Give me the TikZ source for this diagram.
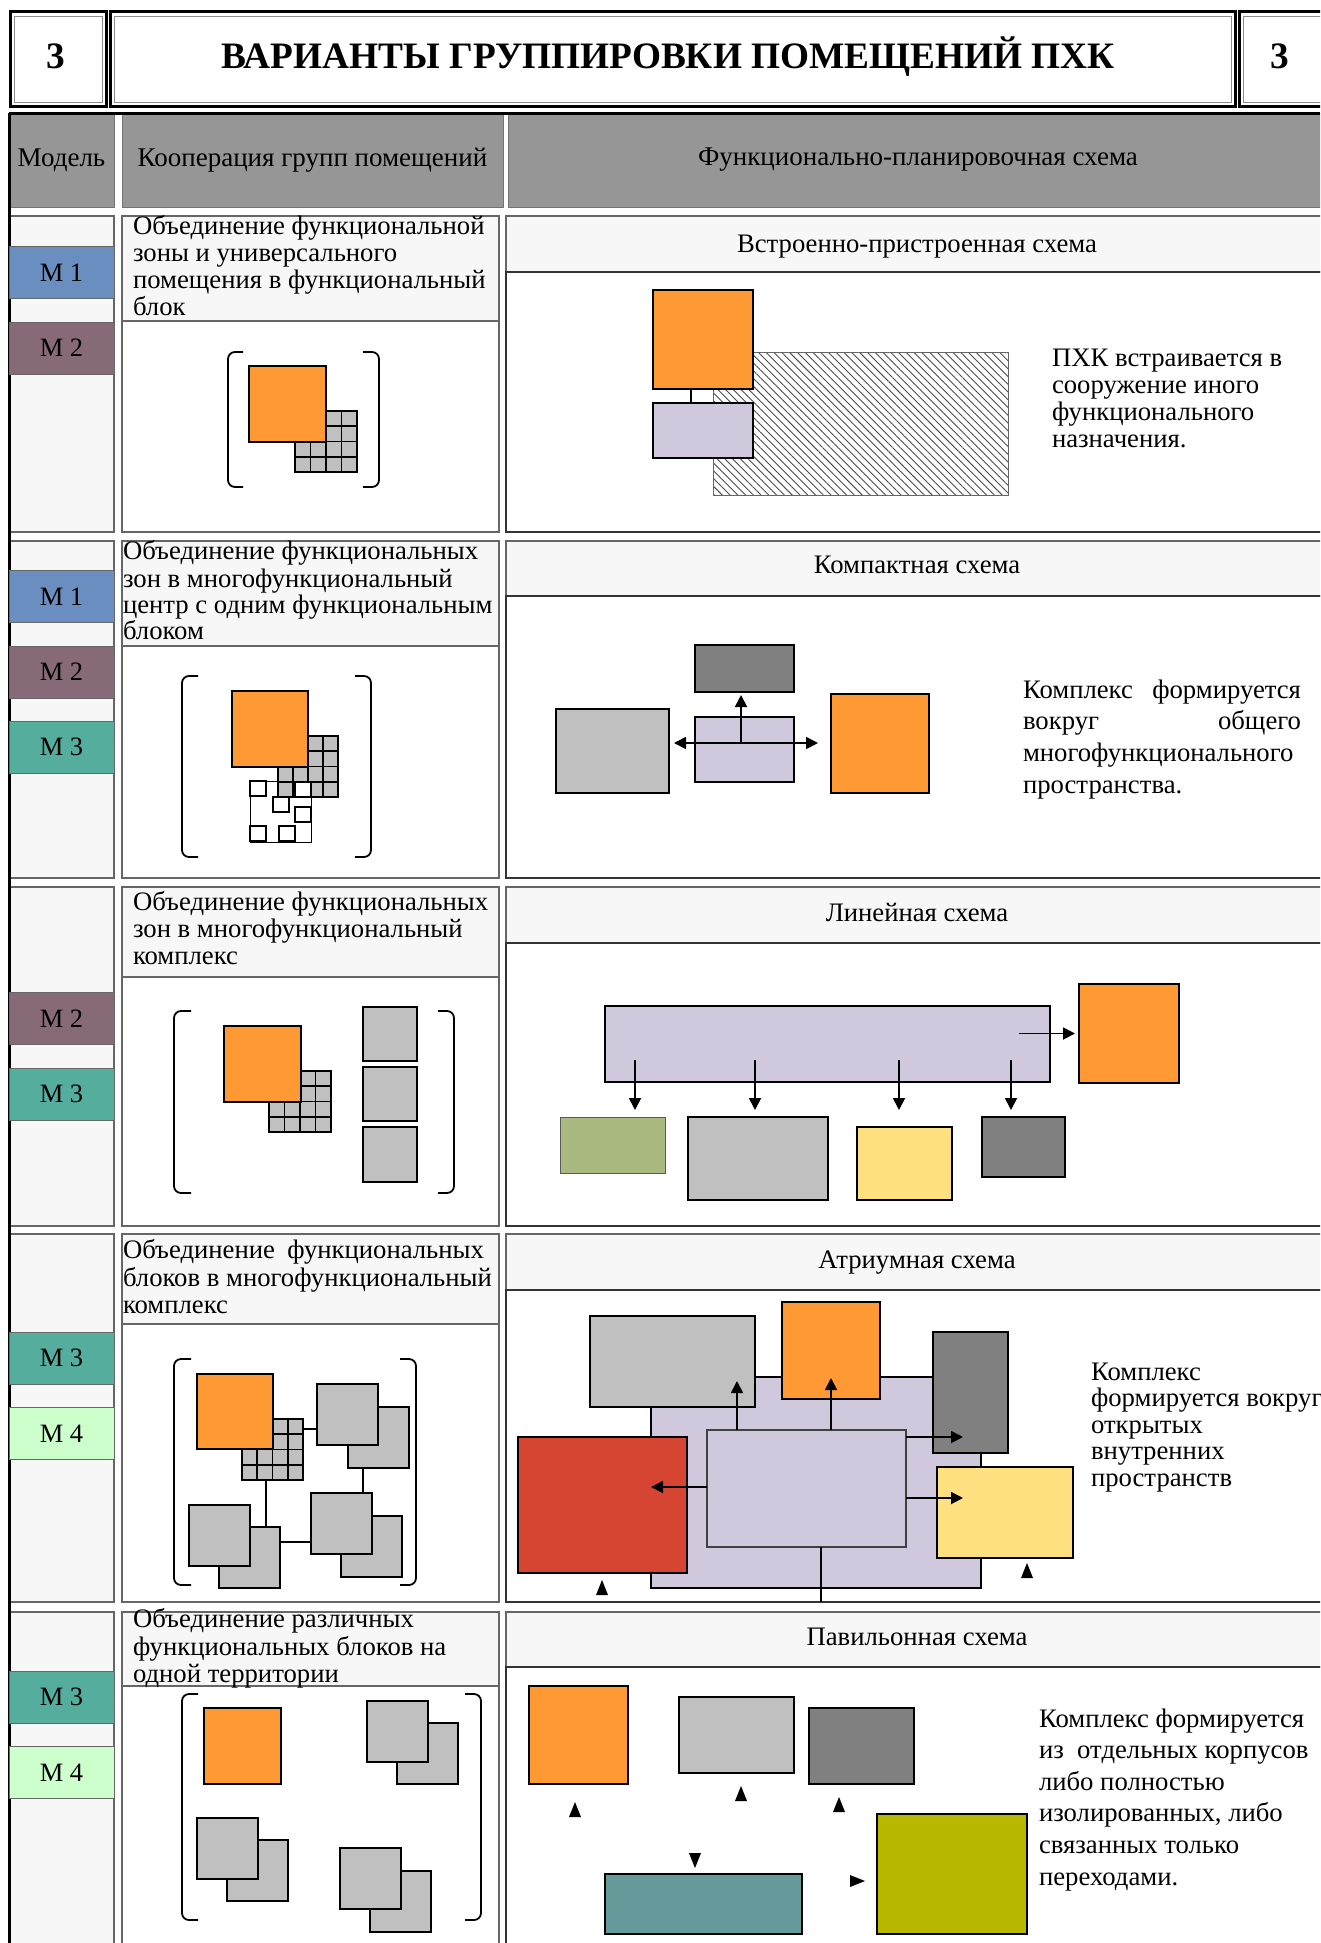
\documentclass[tikz,border=0pt]{standalone}
\usepackage{fontspec}
\setmainfont{Liberation Serif}
\usetikzlibrary{arrows.meta,calc,patterns.meta}
\definecolor{hdrgray}{HTML}{969696}
\definecolor{cellbg}{HTML}{F7F7F7}
\definecolor{mone}{HTML}{6A8EC0}
\definecolor{mtwo}{HTML}{876A78}
\definecolor{mthree}{HTML}{55AE9D}
\definecolor{mfour}{HTML}{CCFFCC}
\definecolor{orng}{HTML}{FF9933}
\definecolor{lgr}{HTML}{C0C0C0}
\definecolor{dgr}{HTML}{808080}
\definecolor{lav}{HTML}{D0C8DC}
\definecolor{grn}{HTML}{AAB97F}
\definecolor{ylw}{HTML}{FFE080}
\definecolor{rd}{HTML}{D64532}
\definecolor{tl}{HTML}{669999}
\definecolor{olv}{HTML}{B8B800}
\newcommand\fz[2]{\fontsize{#1}{#2}\selectfont}
% \rbx[text]{style}{name}{x1}{y1}{x2}{y2}
\newcommand\rbx[7][]{\node[#2,anchor=north west,minimum width={#6-#4},minimum height={#7-#5}] (#3) at (#4,#5) {#1};}
\newcommand\gsq[5]{\rbx{bx,fill=lgr}{#1}{#2}{#3}{#4}{#5}%
  \foreach \i in {1,2,3}{%
    \draw[gline] ($(#1.north west)!\i/4!(#1.north east)$) -- ($(#1.south west)!\i/4!(#1.south east)$);
    \draw[gline] ($(#1.north west)!\i/4!(#1.south west)$) -- ($(#1.north east)!\i/4!(#1.south east)$);}}
% \pairsq{name}{front x}{front y}{back x}{back y}
\newcommand\pairsq[5]{\rbx{bx,fill=lgr}{#1b}{#4}{#5}{#4+61}{#5+61}\rbx{bx,fill=lgr}{#1f}{#2}{#3}{#2+61}{#3+61}}
\newcommand\lbrk[4]{\draw[brk] (#2,#3) -- (#1,#3) -- (#1,#4) -- (#2,#4);}
\newcommand\rbrk[4]{\draw[brk] (#1,#3) -- (#2,#3) -- (#2,#4) -- (#1,#4);}
\newcommand\tup[2]{\fill (#1-6,#2+7) -- (#1+6,#2+7) -- (#1,#2-8) -- cycle;}
\newcommand\tdown[2]{\fill (#1-6,#2-7) -- (#1+6,#2-7) -- (#1,#2+8) -- cycle;}
\newcommand\tright[2]{\fill (#1-7,#2-6) -- (#1-7,#2+6) -- (#1+8,#2) -- cycle;}
\begin{document}
\begin{tikzpicture}[x=1pt,y=-1pt,
  bx/.style={draw=black,line width=2.6,inner sep=0,outer sep=0},
  thinbx/.style={draw=black!65,line width=1,inner sep=0,outer sep=0},
  gline/.style={line width=1.8,black},
  brk/.style={line width=1.8,rounded corners=7},
  cellln/.style={draw=black!60,line width=1.2},
  hdr/.style={draw=black!55,line width=1,fill=hdrgray,inner sep=0,outer sep=0,font=\fz{27}{29}},
  frame/.style={draw=black,line width=3,inner sep=0,outer sep=0},
  mbox/.style={draw=black!60,line width=1,minimum width=105,minimum height=52,inner sep=0,font=\fz{26.5}{28}},
  txt/.style={inner sep=0,outer sep=0,anchor=north west,align=left},
  ctr/.style={inner sep=0,outer sep=0,anchor=base,font=\fz{26.7}{28}},
  arr/.style={line width=1.8,-{Triangle[length=12,width=12]}},
  arrb/.style={line width=1.8,{Triangle[length=12,width=12]}-{Triangle[length=12,width=12]}}]
\useasboundingbox (0,0) rectangle (1320,1943);
\clip (0,0) rectangle (1320,1943);
\fill[white] (0,0) rectangle (1320,1943);
% ---------- title band
\rbx{frame}{tbl}{10}{12}{106}{106}
\rbx{frame}{tbm}{110}{12}{1235}{106}
\rbx{frame}{tbr}{1239}{12}{1360}{106}
\draw[black!45,line width=0.8] (14,16) rectangle (102,102) (114,16) rectangle (1231,102) (1243,16) rectangle (1360,102);
\node[ctr,font=\bfseries\fz{37.3}{40}] (nl) at (56,68) {3};
\node[ctr,font=\bfseries\fz{37.3}{40}] (ttl) at (668,68) {ВАРИАНТЫ ГРУППИРОВКИ ПОМЕЩЕНИЙ ПХК};
\node[ctr,font=\bfseries\fz{37.3}{40}] (nr) at (1280,68) {3};
% ---------- header row
\rbx[Модель]{hdr}{h1}{9}{113}{114}{207}
\rbx[Кооперация групп помещений]{hdr}{h2}{122}{113}{503}{207}
\rbx[Функционально-планировочная схема]{hdr}{h3}{508}{113}{1328}{207}
% ---------- row cells
\foreach \t/\h/\hh/\b in {216/321/272/532, 541/646/596/878, 887/977/943/1226, 1234/1324/1290/1602, 1612/1686/1667/1970}{
  \draw[cellln,fill=cellbg] (9,\t) rectangle (114,\b);
  \draw[cellln,fill=cellbg] (122,\t) rectangle (499,\h);
  \draw[cellln,fill=white] (122,\h) rectangle (499,\b);
  \draw[cellln,fill=cellbg] (506,\t) rectangle (1330,\hh);
  \draw[draw=black!80,line width=1.4,fill=white] (506,\hh) rectangle (1330,\b);
}
\draw[line width=3] (9,113) -- (1320,113);
\draw[line width=3] (9,113) -- (9,1943);
% ---------- model labels
\node[mbox,fill=mone]   (r1m1) at (61.5,272.5) {М 1};
\node[mbox,fill=mtwo]   (r1m2) at (61.5,348) {М 2};
\node[mbox,fill=mone]   (r2m1) at (61.5,596.5) {М 1};
\node[mbox,fill=mtwo]   (r2m2) at (61.5,672) {М 2};
\node[mbox,fill=mthree] (r2m3) at (61.5,747) {М 3};
\node[mbox,fill=mtwo]   (r3m2) at (61.5,1018.5) {М 2};
\node[mbox,fill=mthree] (r3m3) at (61.5,1094) {М 3};
\node[mbox,fill=mthree] (r4m3) at (61.5,1358) {М 3};
\node[mbox,fill=mfour]  (r4m4) at (61.5,1433.5) {М 4};
\node[mbox,fill=mthree] (r5m3) at (61.5,1697) {М 3};
\node[mbox,fill=mfour]  (r5m4) at (61.5,1772.5) {М 4};
% ---------- column 2 titles
\node[txt,font=\fz{26.7}{27}] (k1) at (133,215) {\strut Объединение функциональной\\зоны и универсального\\помещения в функциональный\\блок};
\node[txt,font=\fz{26.7}{26.4}] (k2) at (123,540.5) {\strut Объединение функциональных\\зон в многофункциональный\\центр с одним функциональным\\блоком};
\node[txt,font=\fz{26.7}{27}] (k3) at (133,891) {\strut Объединение функциональных\\зон в многофункциональный\\комплекс};
\node[txt,font=\fz{26.7}{26.5}] (k4) at (123,1239.5) {\strut\makebox[361pt][s]{Объединение\hfill функциональных}\\блоков в многофункциональный\\комплекс};
\node[txt,font=\fz{26.7}{26.5}] (k5) at (133,1608.5) {\strut Объединение различных\\функциональных блоков на\\одной территории};
% ---------- column 3 titles
\node[ctr] (s1) at (917,252) {Встроенно-пристроенная схема};
\node[ctr] (s2) at (917,573) {Компактная схема};
\node[ctr] (s3) at (917,921) {Линейная схема};
\node[ctr] (s4) at (917,1268) {Атриумная схема};
\node[ctr] (s5) at (917,1645) {Павильонная схема};
% ========== ROW 1
\lbrk{228}{243}{352}{487}\rbrk{363}{379}{352}{487}
\gsq{g1}{295}{411}{357}{472}
\rbx{bx,fill=orng}{o1}{249}{366}{326}{442}
\rbx{draw=black!60,line width=1,inner sep=0,outer sep=0,pattern={Lines[angle=-45,distance=5.5pt,line width=0.9pt]},pattern color=black!70}{hat1}{713}{352}{1008}{495}
\rbx{bx,fill=orng}{p1o}{653}{290}{753}{389}
\rbx{bx,fill=lav}{p1l}{653}{403}{753}{458}
\coordinate (c1) at (691,0);
\draw[line width=1.5] (p1o.south -| c1) -- (p1l.north -| c1);
\node[txt,font=\fz{26.7}{27.2}] (t1) at (1052,347) {\strut ПХК встраивается в\\сооружение иного\\функционального\\назначения.};
% ========== ROW 2
\lbrk{182}{198}{676}{857}\rbrk{355}{371}{676}{857}
\rbx{draw=black,line width=1,fill=white,inner sep=0,outer sep=0}{w2}{250}{781}{311}{842}
\gsq{g2}{278}{736}{338}{797}
\rbx{bx,fill=orng}{o2}{232}{691}{308}{767}
\foreach \x/\y [count=\n] in {250/781, 273/797, 295/807, 250/826, 279/826, 295/782}{
  \rbx{draw=black,line width=1.8,fill=white,inner sep=0,outer sep=0}{ws\n}{\x}{\y}{\x+16}{\y+15}}
\rbx{bx,fill=dgr}{p2d}{695}{645}{794}{692}
\rbx{bx,fill=lav}{p2l}{695}{717}{794}{782}
\rbx{bx,fill=lgr}{p2g}{556}{709}{669}{793}
\rbx{bx,fill=orng}{p2o}{831}{694}{929}{793}
\coordinate (c2) at (741,743);
\draw[arrb] ([xshift=5]p2g.east |- c2) -- ([xshift=-13]p2o.west |- c2);
\draw[arr] (c2) -- ([yshift=-3]p2d.south -| c2);
\node[txt,font=\fz{26.7}{31.7}] (t2) at (1023,676) {\strut\makebox[278pt][s]{Комплекс\hfill формируется}\\\makebox[278pt][s]{вокруг\hfill общего}\\многофункционального\\пространства.};
% ========== ROW 3
\lbrk{174}{191}{1011}{1193}\rbrk{438}{454}{1011}{1193}
\gsq{g3}{269}{1071}{331}{1132}
\rbx{bx,fill=orng}{o3}{224}{1026}{301}{1102}
\rbx{bx,fill=lgr}{q3a}{363}{1007}{417}{1061}
\rbx{bx,fill=lgr}{q3b}{363}{1067}{417}{1121}
\rbx{bx,fill=lgr}{q3c}{363}{1127}{417}{1182}
\rbx{bx,fill=lav}{p3l}{605}{1006}{1050}{1082}
\rbx{bx,fill=orng}{p3o}{1079}{984}{1179}{1083}
\rbx{thinbx,fill=grn}{p3a}{560}{1117}{665}{1173}
\rbx{bx,fill=lgr}{p3b}{688}{1117}{828}{1200}
\rbx{bx,fill=ylw}{p3c}{857}{1127}{952}{1200}
\rbx{bx,fill=dgr}{p3d}{982}{1117}{1065}{1177}
\draw[arr] ([xshift=-31]p3l.east |- p3o.west) -- ([xshift=-4]p3o.west);
\foreach \x/\n in {635/a,755/b,899/c,1011/d}{
  \coordinate (d3\n) at (\x,1060);
  \draw[arr] (d3\n) -- ([yshift=7]d3\n |- p3b.north);}
% ========== ROW 4
\lbrk{174}{191}{1359}{1585}\rbrk{400}{416}{1359}{1585}
\gsq{g4}{242}{1419}{303}{1480}
\rbx{bx,fill=orng}{o4}{197}{1374}{273}{1449}
\pairsq{tr4}{317}{1384}{348}{1407}
\pairsq{bl4}{189}{1505}{219}{1527}
\pairsq{br4}{311}{1493}{341}{1516}
\coordinate (e1) at (0,1429);
\draw[line width=1.5] (g4.east |- e1) -- (tr4f.west |- e1);
\coordinate (e2) at (266,0);
\draw[line width=1.5] (g4.south -| e2) -- (bl4b.north -| e2);
\coordinate (e3) at (363,0);
\draw[line width=1.5] (tr4b.south -| e3) -- (br4f.north -| e3);
\coordinate (e4) at (0,1542);
\draw[line width=1.5] (bl4b.east |- e4) -- (br4f.west |- e4);
\rbx{bx,fill=lav}{p4L}{651}{1377}{981}{1588}
\rbx{bx,fill=lgr}{p4g}{590}{1316}{755}{1407}
\rbx{bx,fill=orng}{p4o}{782}{1302}{880}{1399}
\rbx{bx,fill=dgr}{p4d}{933}{1332}{1008}{1453}
\rbx{bx,fill=rd}{p4r}{518}{1437}{687}{1573}
\rbx{bx,fill=ylw}{p4y}{937}{1467}{1073}{1558}
\rbx{draw=black!75,line width=1.3,fill=lav,inner sep=0,outer sep=0}{p4i}{707}{1430}{906}{1547}
\coordinate (u1) at (737,1381);
\coordinate (u2) at (831,1378);
\coordinate (u3) at (963,1437);
\coordinate (u4) at (651,1487);
\coordinate (u5) at (963,1498);
\coordinate (u6) at (821,1602);
\draw[arr] (p4i.north -| u1) -- (u1);
\draw[arr] (p4i.north -| u2) -- (u2);
\draw[arr] (p4i.east |- u3) -- (u3);
\draw[arr] (p4i.west |- u4) -- (u4);
\draw[arr] (p4i.east |- u5) -- (u5);
\draw[line width=1.5] (p4i.south -| u6) -- (u6);
\tup{602}{1588}\tup{1027}{1571}
\node[txt,font=\fz{26.7}{26.5}] (t4) at (1091,1361.5) {\strut Комплекс\\формируется вокруг\\открытых\\внутренних\\пространств};
% ========== ROW 5
\lbrk{182}{198}{1694}{1920}\rbrk{465}{481}{1694}{1920}
\rbx{bx,fill=orng}{o5}{204}{1708}{281}{1784}
\pairsq{tr5}{367}{1701}{397}{1723}
\pairsq{bl5}{197}{1818}{227}{1840}
\pairsq{br5}{340}{1848}{370}{1871}
\rbx{bx,fill=orng}{p5o}{529}{1686}{628}{1784}
\rbx{bx,fill=lgr}{p5g}{679}{1697}{794}{1773}
\rbx{bx,fill=dgr}{p5d}{809}{1708}{914}{1784}
\rbx{bx,fill=tl}{p5t}{605}{1874}{802}{1934}
\rbx{bx,fill=olv}{p5v}{877}{1814}{1027}{1934}
\tup{575}{1810}\tup{741}{1794}\tup{839}{1805}
\tdown{695}{1860}\tright{857}{1881}
\node[txt,font=\fz{26.7}{31.6}] (t5) at (1039,1705) {\strut Комплекс формируется\\из\ \ отдельных корпусов\\либо полностью\\изолированных, либо\\связанных только\\переходами.};
\end{tikzpicture}
\end{document}
